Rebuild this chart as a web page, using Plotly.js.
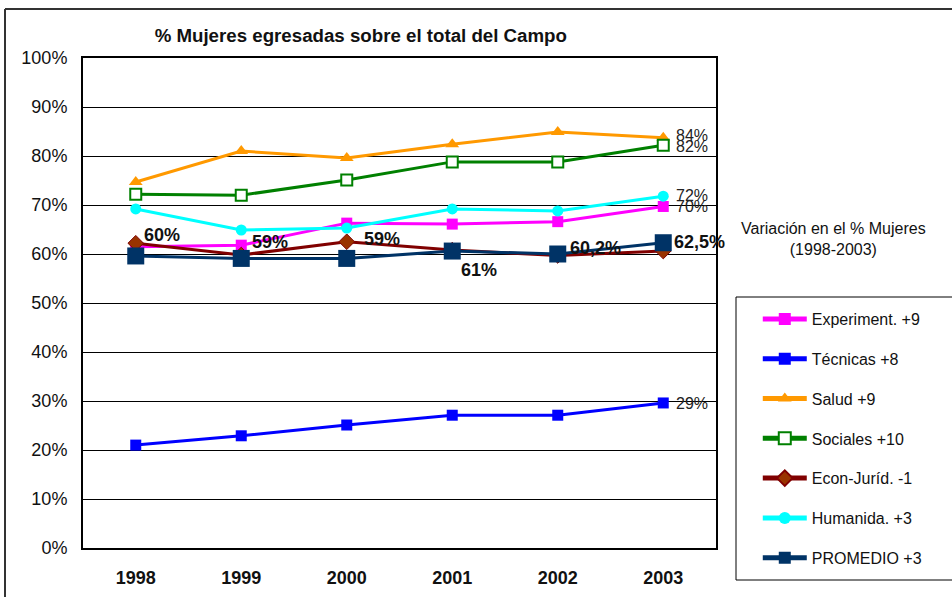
<!DOCTYPE html>
<html><head><meta charset="utf-8">
<script src="https://cdn.plot.ly/plotly-3.0.1.min.js"></script>
<style>html,body{margin:0;padding:0;background:#fff}#chart{width:952px;height:597px}</style>
</head><body><div id="chart"></div>
<script>
const years = ['1998','1999','2000','2001','2002','2003'];
const experiment = [61.5, 61.8, 66.3, 66.1, 66.6, 69.7];
const tecnicas = [21.0, 22.9, 25.1, 27.1, 27.1, 29.6];
const salud = [74.7, 81.0, 79.6, 82.4, 84.9, 83.7];
const sociales = [72.2, 72.0, 75.1, 78.8, 78.8, 82.2];
const econ = [62.2, 59.8, 62.5, 60.8, 59.7, 60.6];
const humanidades = [69.2, 64.9, 65.3, 69.2, 68.8, 71.8];
const promedio = [59.6, 59.1, 59.1, 60.6, 60.0, 62.3];
const seriesNames = ['Experiment. +9','Técnicas +8','Salud +9','Sociales +10','Econ-Juríd. -1','Humanida. +3','PROMEDIO +3'];
const promLabels = ['60%','59%','59%','61%','60,2%','62,5%'];
const endLabels = ['84%','82%','72%','70%','29%'];

const F = 'Arial, "Liberation Sans", sans-serif';
function tr(y, i, color, sym, size, extra) {
  return Object.assign({
    x: years, y: y, type: 'scatter', mode: 'lines+markers', name: seriesNames[i],
    legendgroup: 'g' + i,
    line: {color: color, width: 3},
    marker: {symbol: sym, size: size, color: color}
  }, extra || {});
}
const data = [
  tr(experiment, 0, '#FF00FF', 'square', 11),
  tr(tecnicas, 1, '#0000FF', 'square', 11),
  tr(salud, 2, '#FF9900', 'triangle-up', 12),
  tr(sociales, 3, '#008000', 'square', 11, {marker: {symbol: 'square', size: 11, color: '#FFFFFF', line: {color: '#008000', width: 2}}}),
  tr(econ, 4, '#800000', 'diamond', 12, {marker: {symbol: 'diamond', size: 12, color: '#993300', line: {color: '#800000', width: 1}}}),
  tr(humanidades, 5, '#00FFFF', 'circle', 11),
  tr(promedio, 6, '#003366', 'square', 17)
];

const promShift = [[26,21],[29,16],[35,19],[27,-19],[38,6],[36,1]];
const annotations = [];
promLabels.forEach((t, i) => {
  annotations.push({x: i, y: promedio[i], xref: 'x', yref: 'y', text: t, showarrow: false,
    xanchor: 'center', yanchor: 'middle',
    xshift: promShift[i][0], yshift: promShift[i][1], font: {family: F, size: 18, color: '#111', weight: 'bold'}});
});
const endSeries = [salud, sociales, humanidades, experiment, tecnicas];
const endYShift = [2, -1, 1, 0, -1];
endSeries.forEach((s, i) => {
  annotations.push({x: years.length - 1, y: s[years.length - 1], xref: 'x', yref: 'y', text: endLabels[i], showarrow: false,
    xanchor: 'left', yanchor: 'middle', xshift: 11, yshift: endYShift[i], font: {family: F, size: 16, color: '#222'}});
});
annotations.push({x: 1.185, y: 0.63, xref: 'paper', yref: 'paper', xanchor: 'center', yanchor: 'middle',
  text: 'Variación en el % Mujeres<br>(1998-2003)',
  showarrow: false, font: {family: F, size: 16, color: '#111'}, align: 'center'});

const layout = {
  width: 952, height: 597,
  margin: {l: 83, r: 236, t: 58, b: 49},
  paper_bgcolor: '#fff', plot_bgcolor: '#fff',
  title: {text: '% Mujeres egresadas sobre el total del Campo', x: 0.379, xref: 'container', xanchor: 'center',
    y: 0.941, yref: 'container', yanchor: 'middle', font: {family: F, size: 18.7, color: '#111', weight: 'bold'}},
  xaxis: {type: 'category', range: [-0.5, 5.5], showline: true, mirror: true, linecolor: '#000', linewidth: 2,
    showgrid: false, ticks: '', tickfont: {family: F, size: 18, color: '#111', weight: 'bold'}, ticklabelstandoff: 12, fixedrange: true},
  yaxis: {range: [0, 100], dtick: 10, ticksuffix: '%', showline: true, mirror: true, linecolor: '#000', linewidth: 2,
    showgrid: true, gridcolor: '#000', gridwidth: 1, zeroline: false, ticks: '',
    tickfont: {family: F, size: 18, color: '#111'}, ticklabelstandoff: 10, fixedrange: true},
  showlegend: true,
  legend: {x: 1.066, xanchor: 'left', y: 0.502, yanchor: 'top', bgcolor: 'rgba(0,0,0,0)', borderwidth: 0,
    font: {family: F, size: 16, color: '#111'}, tracegroupgap: 16, itemwidth: 44, traceorder: 'grouped', itemsizing: 'constant'},
  shapes: [
    {type: 'rect', xref: 'paper', yref: 'paper', x0: (736-83)/633, x1: 1.5, y0: (548-580)/490, y1: (548-297)/490,
      line: {color: '#000', width: 1}, fillcolor: 'rgba(0,0,0,0)'},
    {type: 'line', xref: 'paper', yref: 'paper', x0: (5-83)/633, x1: 1.5, y0: (548-9)/490, y1: (548-9)/490, line: {color: '#333', width: 2}},
    {type: 'line', xref: 'paper', yref: 'paper', x0: (5-83)/633, x1: (5-83)/633, y0: -0.2, y1: (548-9)/490, line: {color: '#333', width: 2}}
  ],
  annotations: annotations
};
Plotly.newPlot('chart', data, layout, {displayModeBar: false, staticPlot: true});
</script></body></html>
